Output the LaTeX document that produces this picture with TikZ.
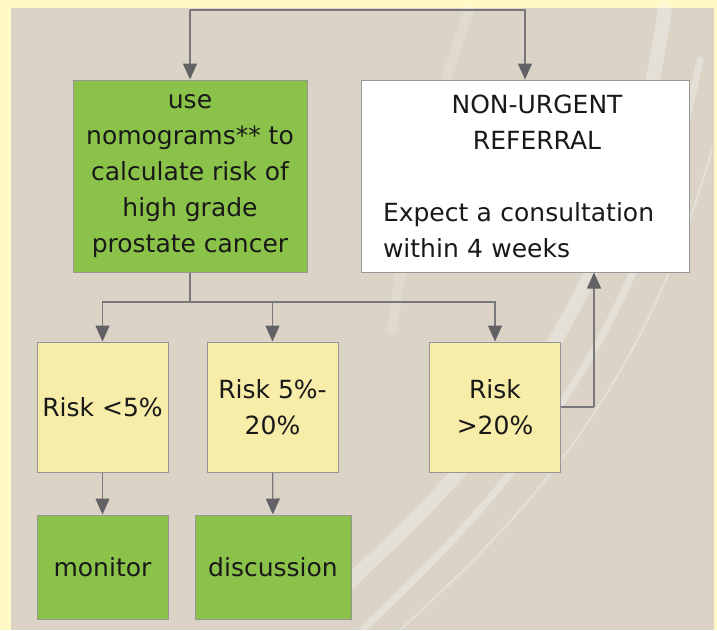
\documentclass[tikz,border=0pt]{standalone}
\usepackage{fontspec}
\setmainfont{DejaVu Sans}
\usetikzlibrary{arrows.meta}
\definecolor{pagebg}{RGB}{219,212,198}
\definecolor{rimyellow}{RGB}{255,249,196}
\definecolor{boxgreen}{RGB}{139,195,74}
\definecolor{boxyellow}{RGB}{247,236,168}
\definecolor{linegray}{RGB}{120,120,122}
\definecolor{tipgray}{RGB}{98,98,102}
\definecolor{edgegray}{RGB}{150,150,150}
\definecolor{inkgray}{RGB}{25,25,25}
\tikzset{
  box/.style={draw=edgegray, line width=1pt, inner sep=0pt, align=center,
    text=inkgray, font=\fontsize{25}{36}\selectfont},
  greenbox/.style={box, fill=boxgreen},
  riskbox/.style={box, fill=boxyellow, minimum width=131pt, minimum height=130pt},
  link/.style={draw=linegray, line width=1.3pt},
  arr/.style={link, -{Triangle[width=14pt,length=16pt,color=tipgray]}},
  swoosh/.style={white, opacity=0.3, line cap=round}
}
\begin{document}
\begin{tikzpicture}[x=1pt, y=-1pt]
  % page background
  \useasboundingbox (0,0) rectangle (717,630);
  \fill[rimyellow] (0,0) rectangle (717,630);
  \fill[pagebg] (11,8) rectangle (714,630);
  \draw[swoosh, line width=14pt] (330,600) .. controls (470,470) and (620,330) .. (665,8);
  \draw[swoosh, line width=7pt] (362,630) .. controls (500,500) and (640,350) .. (700,60);
  \draw[swoosh, line width=2pt] (400,630) .. controls (520,520) and (640,400) .. (712,150);
  \draw[swoosh, opacity=0.15, line width=10pt] (470,8) .. controls (430,120) and (405,230) .. (392,330);

  % boxes
  \node[greenbox, minimum width=234pt, minimum height=192pt] (nomo) at (190,176)
    {use\\nomograms** to\\calculate risk of\\high grade\\prostate cancer};
  \node[box, fill=white, align=left, text width=316pt, minimum width=328pt,
    minimum height=192pt] (referral) at (525,176)
    {{\centering\hspace*{24pt}NON-URGENT\\\hspace*{24pt}REFERRAL\par}\vspace{36pt}%
     \hspace*{16pt}Expect a consultation\\\hspace*{16pt}within 4 weeks};
  \node[riskbox] (low) at (102.5,407) {Risk <5\%};
  \node[riskbox] (mid) at (272.5,407) {Risk 5\%-\\20\%};
  \node[riskbox] (high) at (495,407) {Risk\\>20\%};
  \node[greenbox, minimum width=131pt, minimum height=104pt] (monitor) at (102.5,567) {monitor};
  \node[greenbox, minimum width=156pt, minimum height=104pt] (discussion) at (273,567) {discussion};

  % connectors
  \coordinate (split) at (190,10);
  \coordinate (fork) at (190,302);
  \coordinate (bend) at (594,407);
  \draw[arr] (split) -- (nomo);
  \draw[arr] (split) -| (referral);
  \draw[link] (nomo) -- (fork);
  \draw[arr] (fork) -| (low);
  \draw[arr] (fork) -| (mid);
  \draw[arr] (fork) -| (high);
  \draw[link] (high) -- (bend);
  \draw[arr] (bend) -- (bend |- referral.south);
  \draw[arr] (low) -- (monitor);
  \draw[arr] (mid) -- (discussion);
\end{tikzpicture}
\end{document}
